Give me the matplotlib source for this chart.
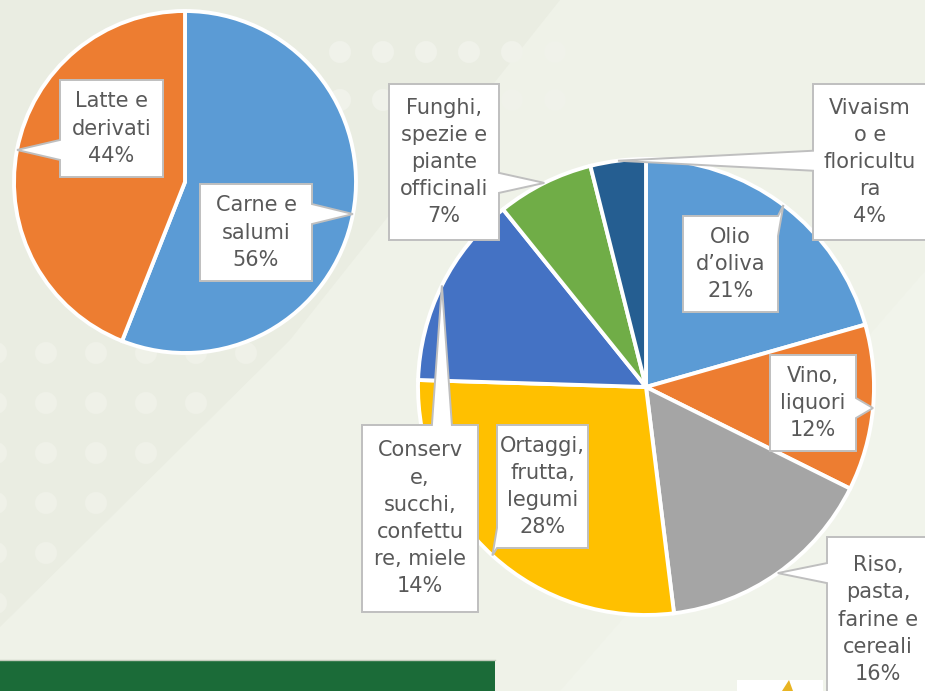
import numpy as np
import matplotlib
matplotlib.use("Agg")
import matplotlib.pyplot as plt
from matplotlib.patches import Polygon, Rectangle, Circle

# dati
left_labels = ["Carne e\nsalumi", "Latte e\nderivati"]
left_values = [56, 44]
left_colors = ["#5B9BD5", "#ED7D31"]

right_labels = ["Olio\nd\u2019oliva", "Vino,\nliquori", "Riso,\npasta,\nfarine e\ncereali",
                "Ortaggi,\nfrutta,\nlegumi", "Conserv\ne,\nsucchi,\nconfettu\nre, miele",
                "Funghi,\nspezie e\npiante\nofficinali", "Vivaism\no e\nfloricultu\nra"]
right_values = [21, 12, 16, 28, 14, 7, 4]
right_colors = ["#5B9BD5", "#ED7D31", "#A5A5A5", "#FFC000", "#4472C4", "#70AD47", "#255E91"]

W, H = 925, 691
FONT = "DejaVu Sans"
TXT = "#595959"

# box delle etichette in pixel (x0, y0, x1, y1), y dall'alto
left_boxes = [(200, 184, 312, 281), (60, 80, 163, 177)]
right_boxes = [(683, 216, 778, 312), (770, 355, 856, 451), (827, 537, 929, 702),
               (497, 425, 588, 548), (362, 425, 478, 612), (389, 84, 499, 240),
               (813, 84, 927, 240)]

fig = plt.figure(figsize=(W / 100, H / 100), dpi=100)
ax = fig.add_axes([0, 0, 1, 1])
fig.patch.set_facecolor("#EFF2E8")

# sfondo
ax.add_patch(Polygon([(0, H), (0, H - 627), (290, H - 340), (560, H), ], closed=True,
                     facecolor="#EAEDE2", edgecolor="none", zorder=0))
ax.add_patch(Polygon([(300, 0), (925, 0), (925, 420), (560, 0)], closed=True,
                     facecolor="#F1F4EB", edgecolor="none", zorder=0))
for yy in range(353, 640, 50):
    for xx in range(-4, 300, 50):
        if yy < 627 - xx * 1.0:
            ax.add_patch(Circle((xx, H - yy), 11, facecolor="#EFF1E8", edgecolor="none", zorder=0.5))
for xx in range(340, 560, 43):
    ax.add_patch(Circle((xx, H - 52), 11, facecolor="#F0F2EA", edgecolor="none", zorder=0.5))
    ax.add_patch(Circle((xx, H - 100), 11, facecolor="#F0F2EA", edgecolor="none", zorder=0.5))

ax.add_patch(Rectangle((0, 0), 495, H - 660, facecolor="#1B6B38", edgecolor="none", zorder=1))
ax.plot([0, 495], [H - 660, H - 660], color="#C3CCBC", lw=1, zorder=1)
ax.add_patch(Rectangle((737, 0), 86, H - 680, facecolor="white", edgecolor="none", zorder=1))
ax.add_patch(Polygon([(782, 0), (789, 11), (793, 0)], closed=True, facecolor="#E8B423",
                     edgecolor="none", zorder=1.2))


def callout(box, tip, text, a=10):
    x0, y0, x1, y1 = box
    top, bot = H - y0, H - y1
    tx, ty = tip
    tl, tr, br, bl = (x0, top), (x1, top), (x1, bot), (x0, bot)
    if tx < x0:
        c = np.clip(ty, bot + a, top - a)
        pts = [tl, tr, br, bl, (x0, c - a), tip, (x0, c + a)]
    elif tx > x1:
        c = np.clip(ty, bot + a, top - a)
        pts = [tl, tr, (x1, c + a), tip, (x1, c - a), br, bl]
    elif ty > top:
        c = np.clip(tx, x0 + a, x1 - a)
        pts = [tl, (c - a, top), tip, (c + a, top), tr, br, bl]
    else:
        c = np.clip(tx, x0 + a, x1 - a)
        pts = [tl, tr, br, (c + a, bot), tip, (c - a, bot), bl]
    ax.add_patch(Polygon(pts, closed=True, facecolor="white", edgecolor="#BFBFBF",
                         lw=1.4, zorder=5, joinstyle="miter"))
    ax.text((x0 + x1) / 2, (top + bot) / 2, text, ha="center", va="center",
            fontsize=15, color=TXT, family=FONT, linespacing=1.45, zorder=6)


def draw_pie(values, colors, labels, boxes, center, r):
    cx, cy = center[0], H - center[1]
    wedges, _ = ax.pie(values, colors=colors, startangle=90, counterclock=False,
                       center=(cx, cy), radius=r,
                       wedgeprops=dict(edgecolor="white", linewidth=2.8))
    for w, lab, v, b in zip(wedges, labels, values, boxes):
        w.set_zorder(3)
        mid = np.deg2rad((w.theta1 + w.theta2) / 2)
        tip = (cx + r * np.cos(mid), cy + r * np.sin(mid))
        callout(b, tip, f"{lab}\n{v}%")


draw_pie(left_values, left_colors, left_labels, left_boxes, (185, 182), 171)
draw_pie(right_values, right_colors, right_labels, right_boxes, (646, 387), 228)

ax.set_xlim(0, W)
ax.set_ylim(0, H)
ax.set_aspect("auto")
ax.axis("off")
fig.savefig("out.png", dpi=100, facecolor=fig.get_facecolor())
